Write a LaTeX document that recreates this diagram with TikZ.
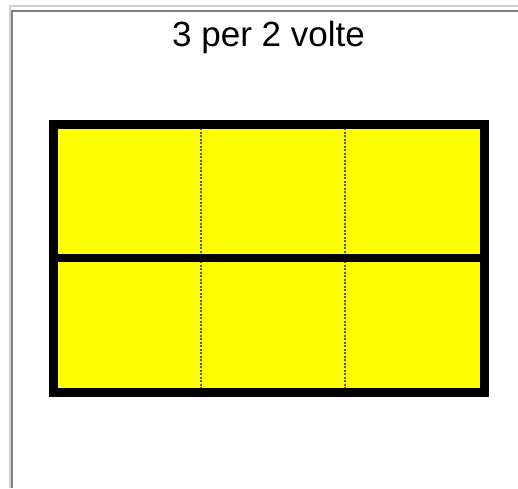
\documentclass[tikz,border=0pt]{standalone}
\usepackage{fontspec}
\setmainfont{Liberation Sans}
\definecolor{framelight}{RGB}{212,208,200}
\definecolor{framedark}{RGB}{128,128,128}
\definecolor{sheet}{RGB}{255,255,0}
\definecolor{foldcol}{RGB}{90,90,40}

\begin{document}
\begin{tikzpicture}[
  x=1pt, y=-1pt,
  every node/.style={inner sep=0pt},
  title/.style={font=\fontsize{35}{40}\selectfont, anchor=base},
  lightedge/.style={draw=framelight, line width=2pt},
  darkedge/.style={draw=framedark, line width=2pt},
  sheetbox/.style={draw=black, fill=sheet, line width=9pt},
  cut/.style={draw=black, line width=8pt},
  fold/.style={draw=foldcol, line width=1.4pt, dash pattern=on 2pt off 1.5pt}]

  \useasboundingbox (0,0) rectangle (518,488);

  % frame
  \draw[lightedge] (9.5,488) -- (9.5,5.5) -- (518,5.5);
  \draw[darkedge]  (12,488) -- (12,11) -- (518,11);

  \node[title] (T) at (268.5,46.5) {3 per 2 volte};

  \coordinate (NW) at (53,124.5);
  \coordinate (SE) at (484,392);

  \fill[sheet] (NW) rectangle (SE);
  \draw[fold] (201,124.5) -- (201,392);
  \draw[fold] (345,124.5) -- (345,392);
  \draw[cut] (53,257.5) -- (484,257.5);
  \draw[sheetbox, fill=none] (NW) rectangle (SE);

\end{tikzpicture}
\end{document}
